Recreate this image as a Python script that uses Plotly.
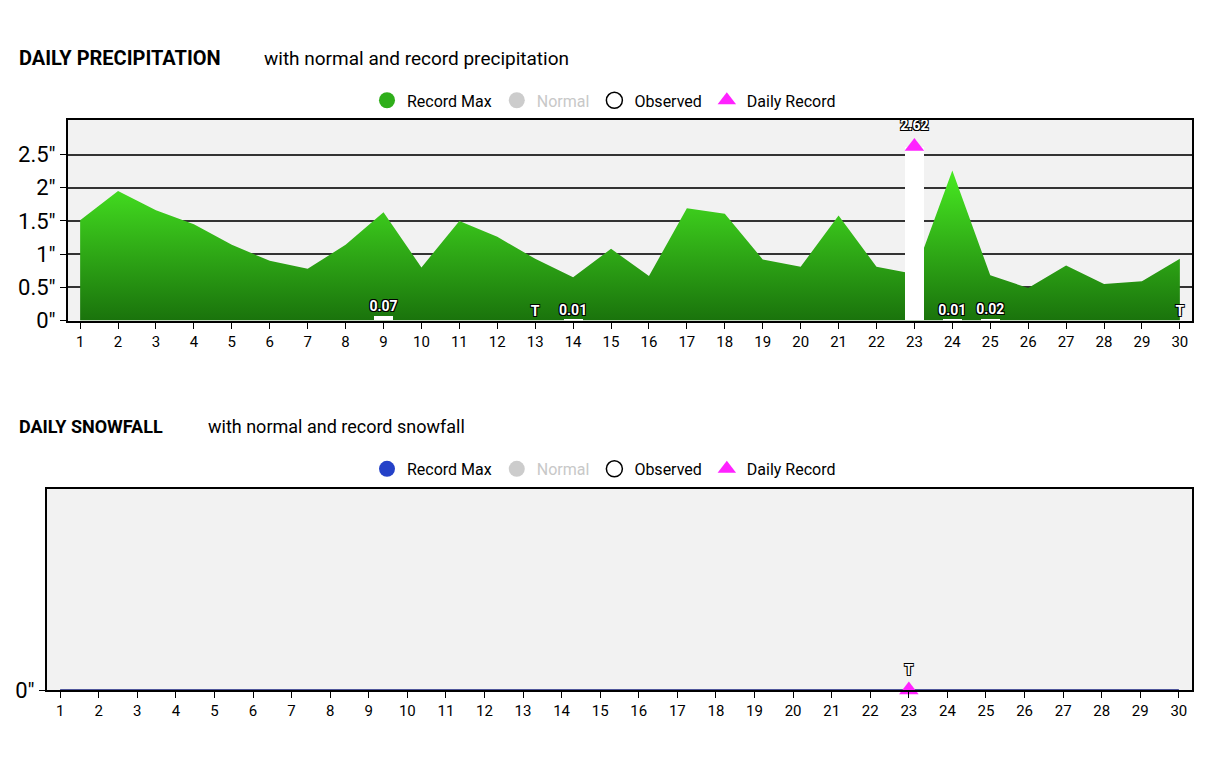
import plotly.graph_objects as go

days = list(range(1, 31))
# record max precipitation (inches)
record_max = [1.51, 1.95, 1.66, 1.45, 1.14, 0.90, 0.78, 1.14, 1.63, 0.80,
              1.50, 1.26, 0.93, 0.65, 1.08, 0.67, 1.69, 1.61, 0.92, 0.81,
              1.58, 0.81, 0.70, 2.26, 0.68, 0.49, 0.83, 0.55, 0.59, 0.93]
obs_days = [9, 13, 14, 23, 24, 25, 30]
obs_vals = [0.07, 0.0, 0.01, 2.62, 0.01, 0.02, 0.0]
obs_text = ["0.07", "T", "0.01", "2.62", "0.01", "0.02", "T"]
record_day = [23]
record_val = [2.62]

snow_record = [0.0] * 30
snow_rec_day = [23]
snow_rec_val = [0.0]
snow_text = ["T"]

OX, OY = 8, 7  # page body offset
W, H = 1213 - OX, 760 - OY


def px_x(p):
    return (p - OX) / W


def px_y(p):
    return 1 - (p - OY) / H


fig = go.Figure()

font = "Roboto"
shadow = "1px 1px 0 #000, -1px -1px 0 #000, 1px -1px 0 #000, -1px 1px 0 #000"

# precipitation
fig.add_trace(go.Scatter(x=days, y=record_max, mode="lines", line=dict(width=0),
                         fill="tozeroy",
                         fillgradient=dict(type="vertical",
                                           colorscale=[[0, "#1a730c"], [1, "#48ea22"]]),
                         showlegend=False, hoverinfo="skip", xaxis="x", yaxis="y"))
fig.add_trace(go.Bar(x=obs_days, y=obs_vals, width=0.5, marker=dict(color="white", line=dict(width=0)),
                     showlegend=False, xaxis="x", yaxis="y3"))
fig.add_trace(go.Scatter(x=record_day, y=record_val, mode="markers",
                         marker=dict(symbol="triangle-up", size=17, color="#ff22ff"),
                         showlegend=False, xaxis="x", yaxis="y3"))
fig.add_trace(go.Scatter(x=obs_days, y=[v + (0.2 if v > 2 else 0.02) for v in obs_vals],
                         mode="text", text=obs_text, textposition="top center",
                         textfont=dict(family=font, size=14, color="white", weight="bold", shadow=shadow),
                         showlegend=False, xaxis="x", yaxis="y3"))

# snowfall
fig.add_trace(go.Scatter(x=days, y=snow_record, mode="lines", line=dict(width=1.5, color="#1a237e"),
                         showlegend=False, hoverinfo="skip", xaxis="x2", yaxis="y2"))
fig.add_trace(go.Scatter(x=snow_rec_day, y=snow_rec_val, mode="markers+text",
                         marker=dict(symbol="triangle-up", size=17, color="#ff22ff"),
                         text=snow_text, textposition="top center",
                         textfont=dict(family=font, size=14, color="white", weight="bold", shadow=shadow),
                         showlegend=False, cliponaxis=False, xaxis="x2", yaxis="y2"))

# legends
def legend_items(color, leg):
    items = [("Record Max", dict(symbol="circle", size=17, color=color)),
             ("<span style='color:#c8c8c8'>Normal</span>", dict(symbol="circle", size=17, color="#cccccc")),
             ("Observed", dict(symbol="circle", size=17, color="white", line=dict(color="black", width=1.5))),
             ("Daily Record", dict(symbol="triangle-up", size=17, color="#ff22ff"))]
    for name, m in items:
        fig.add_trace(go.Scatter(x=[None], y=[None], mode="markers", name=name, marker=m,
                                 legend=leg, xaxis="x", yaxis="y"))

legend_items("#2fae1a", "legend")
legend_items("#2441c8", "legend2")

leg = dict(orientation="h", xanchor="center", x=px_x(604), yanchor="middle",
           font=dict(family=font, size=16, color="black"), itemwidth=30,
           bgcolor="rgba(0,0,0,0)", tracegroupgap=0)

axis_common = dict(showline=True, linecolor="black", linewidth=2, mirror=True,
                   ticks="outside", ticklen=6, tickcolor="black",
                   tickfont=dict(family=font, size=15, color="black"))

fig.update_layout(
    width=W, height=H, margin=dict(l=0, r=0, t=0, b=0),
    paper_bgcolor="white", plot_bgcolor="#f2f2f2", bargap=0,
    legend=dict(leg, y=px_y(101)),
    legend2=dict(leg, y=px_y(476)),
    xaxis=dict(axis_common, domain=[px_x(68), px_x(1192)], range=[0.68, 30.32],
               tickvals=days, showgrid=False, anchor="y"),
    yaxis=dict(axis_common, domain=[px_y(325), px_y(121)], range=[0, 3.02],
               tickvals=[0, 0.5, 1, 1.5, 2, 2.5],
               ticktext=['0"', '0.5"', '1"', '1.5"', '2"', '2.5"'],
               tickfont=dict(family=font, size=22, color="black"),
               showgrid=True, gridcolor="#333333", gridwidth=1.5, zeroline=False, anchor="x"),
    yaxis3=dict(overlaying="y", range=[0, 3.02], visible=False, anchor="x"),
    xaxis2=dict(axis_common, domain=[px_x(47), px_x(1192)], range=[0.66, 30.34],
                tickvals=days, showgrid=False, anchor="y2"),
    yaxis2=dict(axis_common, domain=[px_y(701), px_y(496)], range=[0, 1],
                tickvals=[0], ticktext=['0"'],
                tickfont=dict(family=font, size=22, color="black"),
                showgrid=False, zeroline=False, anchor="x2"),
    annotations=[
        dict(text="<b>DAILY PRECIPITATION</b>", x=px_x(17), y=px_y(58), xref="paper", yref="paper",
             xanchor="left", yanchor="middle", showarrow=False, font=dict(family=font, size=20, color="black")),
        dict(text="with normal and record precipitation", x=px_x(262), y=px_y(58), xref="paper", yref="paper",
             xanchor="left", yanchor="middle", showarrow=False, font=dict(family=font, size=19, color="black")),
        dict(text="<b>DAILY SNOWFALL</b>", x=px_x(17), y=px_y(433), xref="paper", yref="paper",
             xanchor="left", yanchor="middle", showarrow=False, font=dict(family=font, size=18, color="black")),
        dict(text="with normal and record snowfall", x=px_x(206), y=px_y(433), xref="paper", yref="paper",
             xanchor="left", yanchor="middle", showarrow=False, font=dict(family=font, size=18, color="black")),
    ],
)

fig.write_html("out.html")
